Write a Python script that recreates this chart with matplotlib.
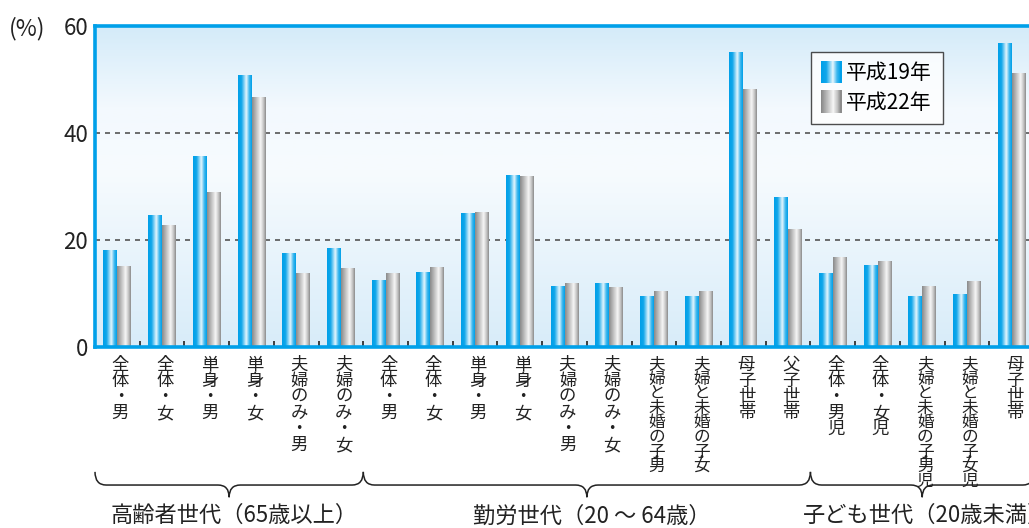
import numpy as np
import matplotlib
matplotlib.use("Agg")
import matplotlib.pyplot as plt
from matplotlib.colors import LinearSegmentedColormap
from matplotlib.patches import Rectangle, PathPatch
from matplotlib.path import Path
from matplotlib.legend_handler import HandlerBase
import matplotlib.transforms as mtransforms

plt.rcParams['font.family'] = ['Noto Sans CJK JP', 'DejaVu Sans']

# data
categories = ["全体・男", "全体・女", "単身・男", "単身・女", "夫婦のみ・男", "夫婦のみ・女",
              "全体・男", "全体・女", "単身・男", "単身・女", "夫婦のみ・男", "夫婦のみ・女",
              "夫婦と未婚の子・男", "夫婦と未婚の子・女", "母子世帯", "父子世帯",
              "全体・男児", "全体・女児", "夫婦と未婚の子・男児", "夫婦と未婚の子・女児", "母子世帯"]
h19 = [18.1, 24.5, 35.7, 50.8, 17.4, 18.5,
       12.5, 14.0, 25.0, 32.1, 11.4, 11.8, 9.5, 9.5, 55.0, 27.9,
       13.8, 15.3, 9.5, 9.9, 56.8]
h22 = [15.1, 22.8, 28.8, 46.7, 13.8, 14.6,
       13.8, 14.8, 25.2, 31.8, 11.8, 11.2, 10.3, 10.3, 48.2, 21.9,
       16.8, 15.9, 11.4, 12.3, 51.2]
series_names = ["平成19年", "平成22年"]
groups = ["高齢者世代（65歳以上）", "勤労世代（20 ～ 64歳）", "子ども世代（20歳未満）"]
group_sizes = [6, 10, 5]
yticks = [0, 20, 40, 60]

blue = "#00a0e9"
blue_cmap = LinearSegmentedColormap.from_list(
    "b", [(0, "#00a0e9"), (0.25, "#10a6ea"), (0.6, "#e6f6fd"), (0.82, "#3db7ee"), (1, "#00a0e9")])
gray_cmap = LinearSegmentedColormap.from_list(
    "g", [(0, "#8a8a8a"), (0.3, "#bdbdbd"), (0.62, "#f6f6f6"), (0.85, "#c0c0c0"), (1, "#8c8c8c")])
bg_cmap = LinearSegmentedColormap.from_list(
    "bg", [(0, "#d8ecf9"), (0.55, "#f7fbfe"), (0.75, "#f3f9fe"), (1, "#d4ebf9")])

fig = plt.figure(figsize=(10.29, 5.28), dpi=100)
ax = fig.add_axes([95 / 1029, 1 - 347 / 528, 939 / 1029, 321 / 528])

n = len(categories)
x = np.arange(n)
w = 0.313
grad = np.linspace(0, 1, 64).reshape(1, -1)

# background gradient
ax.imshow(np.linspace(0, 1, 128).reshape(-1, 1), extent=[-0.5, n - 0.5, 0, 60],
          cmap=bg_cmap, aspect='auto', origin='lower', zorder=0, interpolation='bilinear')

for yv in [20, 40]:
    ax.axhline(yv, color="#555555", lw=1.2, ls=(0, (3, 3)), zorder=1)

for i in range(n):
    ax.imshow(grad, extent=[x[i] - w, x[i], 0, h19[i]], cmap=blue_cmap, aspect='auto',
              zorder=2, interpolation='bilinear')
    ax.imshow(grad, extent=[x[i], x[i] + w, 0, h22[i]], cmap=gray_cmap, aspect='auto',
              zorder=2, interpolation='bilinear')

ax.set_xlim(-0.5, n - 0.5)
ax.set_ylim(0, 60)
ax.set_yticks(yticks)
ax.set_yticklabels([str(v) for v in yticks], fontsize=16, color="#222222")
ax.tick_params(axis='y', length=0, pad=5)
ax.set_xticks(np.arange(0.5, n - 1, 1))
ax.set_xticklabels([])
ax.tick_params(axis='x', direction='in', length=4, width=1.2, color="#222222")
for s in ['left', 'top', 'bottom']:
    ax.spines[s].set_color(blue)
    ax.spines[s].set_linewidth(2.6)
ax.spines['right'].set_visible(False)

ax.annotate("(%)", xy=(0, 1), xycoords='axes fraction', xytext=(-86, 0),
            textcoords='offset pixels', fontsize=16.5, color="#222222",
            va='center_baseline', ha='left', annotation_clip=False)

# vertical category labels
trans = mtransforms.blended_transform_factory(ax.transData, ax.transAxes)
for i, lab in enumerate(categories):
    long = len(lab) > 8
    step = 14.6 if long else 16
    fs = 12 if long else 12.5
    y = -9
    for ch in lab:
        if ch == "・" and long:
            ax.annotate(ch, xy=(x[i], 0), xycoords=trans, xytext=(3, y + 7),
                        textcoords='offset pixels', ha='center', va='top', fontsize=10,
                        color="#222222", annotation_clip=False)
            continue
        ax.annotate(ch, xy=(x[i], 0), xycoords=trans, xytext=(3, y),
                    textcoords='offset pixels', ha='center', va='top', fontsize=fs,
                    color="#222222", annotation_clip=False)
        y -= step

# braces under the groups
def brace(x0, x1):
    ya, yb, yt = -0.389, -0.430, -0.468
    xm = (x0 + x1) / 2
    d = 0.25
    verts = [(x0, ya), (x0, yb), (x0 + d, yb), (xm - d, yb), (xm, yb), (xm, yt),
             (xm, yb), (xm + d, yb), (x1 - d, yb), (x1, yb), (x1, ya)]
    codes = [Path.MOVETO, Path.CURVE3, Path.CURVE3, Path.LINETO, Path.CURVE3, Path.CURVE3,
             Path.CURVE3, Path.CURVE3, Path.LINETO, Path.CURVE3, Path.CURVE3]
    ax.add_patch(PathPatch(Path(verts, codes), transform=trans, fill=False,
                           edgecolor="#222222", lw=1.1, clip_on=False))

start = -0.5
for g, size in zip(groups, group_sizes):
    brace(start, start + size)
    ax.text(start + size / 2 + 0.1, -0.49, g, transform=trans, ha='center', va='top',
            fontsize=16, color="#222222", clip_on=False)
    start += size

# legend with gradient swatches
class GradHandler(HandlerBase):
    def __init__(self, cmap):
        super().__init__()
        self.cmap = cmap

    def create_artists(self, legend, orig_handle, xdescent, ydescent, width, height,
                       fontsize, trans):
        strips = []
        k = 20
        for j in range(k):
            strips.append(Rectangle((-xdescent + width * j / k, -ydescent - 2), width / k + 0.3,
                                    height + 4, facecolor=self.cmap(j / (k - 1)),
                                    edgecolor='none', transform=trans))
        return strips

hb = Rectangle((0, 0), 1, 1)
hg = Rectangle((0, 0), 1, 1)
leg = ax.legend([hb, hg], series_names, loc='upper left',
                bbox_to_anchor=(811 / 1029, 1 - 52 / 528), bbox_transform=fig.transFigure,
                handler_map={hb: GradHandler(blue_cmap), hg: GradHandler(gray_cmap)},
                fontsize=15, frameon=True, fancybox=False, borderaxespad=0,
                handlelength=0.95, handleheight=0.85, handletextpad=0.25, labelspacing=0.35,
                borderpad=0.5)
leg.get_frame().set_edgecolor("#222222")
leg.get_frame().set_linewidth(1.0)
leg.set_zorder(5)

fig.savefig("out.png", dpi=100)
